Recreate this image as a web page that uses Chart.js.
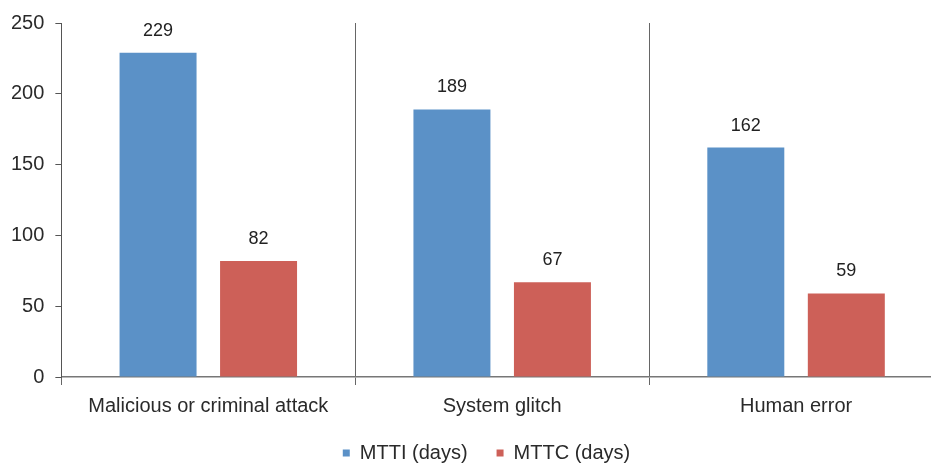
<!DOCTYPE html>
<html>
<head>
<meta charset="utf-8">
<script src="https://cdn.jsdelivr.net/npm/chart.js@4/dist/chart.umd.min.js"></script>
<style>
    html, body { margin: 0; padding: 0; background: #fff; overflow: hidden; }
    #wrap { width: 943px; height: 464px; }
</style>
</head>
<body>
<div id="wrap"><canvas id="mttChart"></canvas></div>
<script>
// chart data
const categories = ['Malicious or criminal attack', 'System glitch', 'Human error'];
const mttiDays = [229, 189, 162];
const mttcDays = [82, 67, 59];
const seriesNames = ['MTTI (days)', 'MTTC (days)'];
const yTicks = [0, 50, 100, 150, 200, 250];

const FONT = '"Liberation Sans", Arial, sans-serif';

// value labels above each bar
const valueLabels = {
    id: 'valueLabels',
    afterDatasetsDraw(chart) {
        const ctx = chart.ctx;
        ctx.save();
        ctx.font = '18px ' + FONT;
        ctx.fillStyle = '#222';
        ctx.textAlign = 'center';
        ctx.textBaseline = 'middle';
        chart.data.datasets.forEach(function(ds, i) {
            chart.getDatasetMeta(i).data.forEach(function(bar, j) {
                ctx.fillText(ds.data[j], bar.x, bar.y - 22);
            });
        });
        ctx.restore();
    }
};

// wide gap between legend items, but keep the legend box short
const legendFix = {
    id: 'legendFix',
    beforeLayout(chart) {
        const legend = chart.legend;
        if (legend && !legend._fixed) {
            legend._fixed = true;
            const origFit = legend.fit;
            legend.fit = function() {
                origFit.call(this);
                this.height = 42;
            };
        }
    },
    afterLayout(chart) {
        const legend = chart.legend;
        if (legend) {
            legend.top -= 8;
            legend.left += 15;
            legend.right += 15;
        }
    }
};

new Chart(document.getElementById('mttChart'), {
    type: 'bar',
    data: {
        labels: categories,
        datasets: [{
            label: seriesNames[0],
            data: mttiDays,
            backgroundColor: '#5b91c7'
        }, {
            label: seriesNames[1],
            data: mttcDays,
            backgroundColor: '#cd6058'
        }]
    },
    options: {
        responsive: true,
        maintainAspectRatio: false,
        animation: false,
        categoryPercentage: 0.684,
        barPercentage: 0.766,
        layout: {
            padding: { top: 20, left: 0, right: 0, bottom: 0 }
        },
        scales: {
            x: {
                offset: true,
                grid: {
                    offset: true,
                    color: '#666',
                    lineWidth: 1,
                    tickLength: 8
                },
                border: { color: '#777', width: 1.5 },
                ticks: {
                    color: '#2a2a2a',
                    padding: 9,
                    font: { family: FONT, size: 20 }
                },
                afterFit: function(scale) {
                    scale.height = 45;
                }
            },
            y: {
                min: 0,
                max: 250,
                afterBuildTicks: function(scale) {
                    scale.ticks = yTicks.map(v => ({ value: v }));
                },
                grid: {
                    drawOnChartArea: false,
                    color: '#555',
                    tickLength: 6
                },
                border: { color: '#555', width: 1 },
                ticks: {
                    color: '#2a2a2a',
                    padding: 11,
                    font: { family: FONT, size: 20 }
                }
            }
        },
        plugins: {
            legend: {
                position: 'bottom',
                labels: {
                    boxWidth: 7,
                    boxHeight: 7,
                    padding: 29,
                    color: '#2a2a2a',
                    font: { family: FONT, size: 20 }
                }
            },
            tooltip: { enabled: false }
        }
    },
    plugins: [valueLabels, legendFix]
});
</script>
</body>
</html>
